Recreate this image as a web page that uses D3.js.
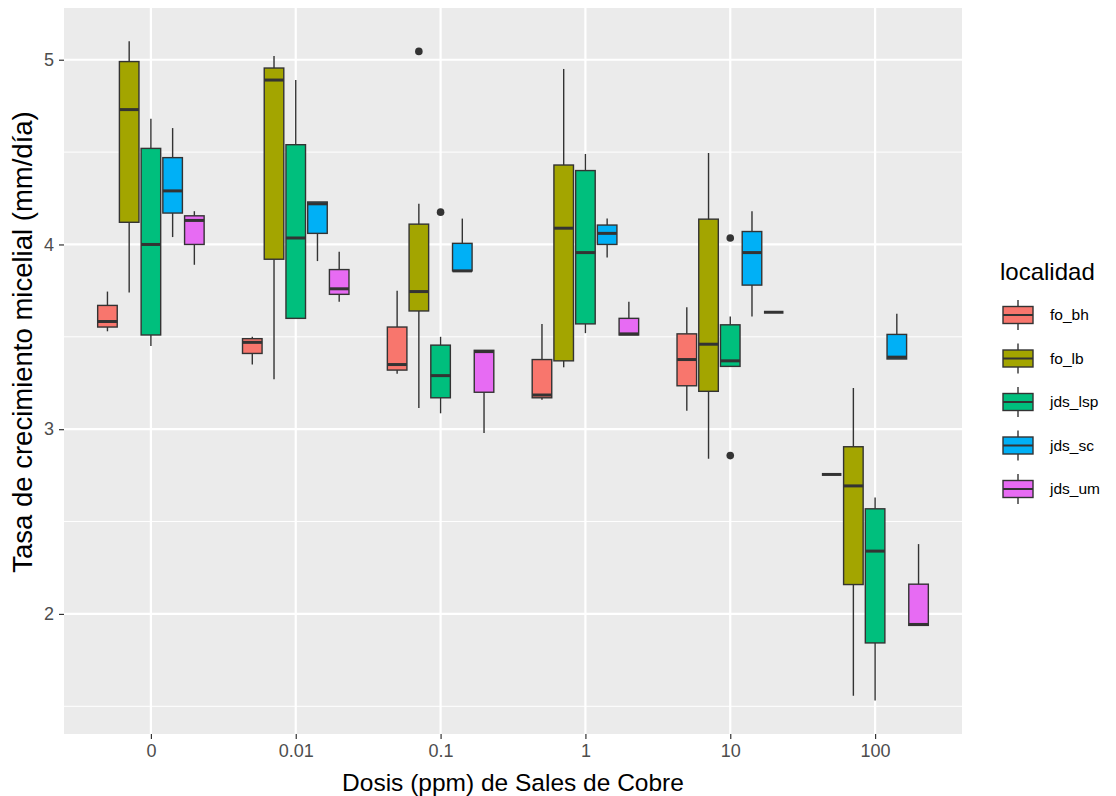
<!DOCTYPE html>
<html>
<head>
<meta charset="utf-8">
<script src="https://cdn.jsdelivr.net/npm/d3@7"></script>
<style>
  body { margin: 0; background: #ffffff; }
  text { font-family: "Liberation Sans", Arial, sans-serif; }
</style>
</head>
<body>
<svg id="chart" width="1116" height="796"></svg>
<script>
// Copper-salt doses (x categories) and sampling localities (fill groups)
const doses = ["0", "0.01", "0.1", "1", "10", "100"];
const localidades = ["fo_bh", "fo_lb", "jds_lsp", "jds_sc", "jds_um"];
const colores = ["#F8766D", "#A3A500", "#00BF7D", "#00B0F6", "#E76BF3"];
const yTicks = [2, 3, 4, 5];
const yMinorTicks = [1.5, 2.5, 3.5, 4.5];

// Five-number summaries per dose: [lower whisker, Q1, median, Q3, upper whisker]
const fo_bh = [
  [3.53, 3.553, 3.583, 3.67, 3.745],
  [3.35, 3.41, 3.47, 3.49, 3.50],
  [3.30, 3.32, 3.35, 3.553, 3.75],
  [3.16, 3.17, 3.185, 3.377, 3.57],
  [3.10, 3.235, 3.377, 3.516, 3.66],
  [2.755, 2.755, 2.755, 2.755, 2.755]
];
const fo_lb = [
  [3.74, 4.12, 4.73, 4.99, 5.10],
  [3.27, 3.92, 4.89, 4.955, 5.02],
  [3.115, 3.64, 3.745, 4.11, 4.22],
  [3.335, 3.37, 4.088, 4.43, 4.95],
  [2.84, 3.205, 3.46, 4.137, 4.495],
  [1.557, 2.159, 2.693, 2.905, 3.223]
];
const jds_lsp = [
  [3.45, 3.51, 4.0, 4.52, 4.68],
  [3.60, 3.60, 4.035, 4.54, 4.89],
  [3.086, 3.17, 3.29, 3.455, 3.50],
  [3.52, 3.57, 3.956, 4.40, 4.49],
  [3.34, 3.34, 3.37, 3.565, 3.61],
  [1.532, 1.843, 2.34, 2.569, 2.63]
];
const jds_sc = [
  [4.04, 4.17, 4.29, 4.47, 4.63],
  [3.91, 4.06, 4.22, 4.23, 4.23],
  [3.857, 3.857, 3.857, 4.006, 4.14],
  [3.93, 4.0, 4.06, 4.105, 4.14],
  [3.61, 3.78, 3.956, 4.07, 4.18],
  [3.38, 3.38, 3.39, 3.513, 3.625]
];
const jds_um = [
  [3.89, 4.0, 4.13, 4.155, 4.18],
  [3.69, 3.73, 3.76, 3.864, 3.96],
  [2.98, 3.20, 3.42, 3.427, 3.427],
  [3.51, 3.51, 3.516, 3.60, 3.69],
  [3.633, 3.633, 3.633, 3.633, 3.633],
  [1.938, 1.938, 1.943, 2.161, 2.378]
];

// Points beyond the whiskers
const outlierLoc = ["fo_lb", "jds_lsp", "jds_lsp", "jds_lsp"];
const outlierDose = ["0.1", "0.1", "10", "10"];
const outlierValue = [5.045, 4.175, 4.035, 2.857];

const summaries = { fo_bh, fo_lb, jds_lsp, jds_sc, jds_um };
const boxes = [];
localidades.forEach((loc, li) => {
  doses.forEach((d, di) => {
    const s = summaries[loc][di];
    boxes.push({ loc, dose: d, color: colores[li], lo: s[0], q1: s[1], med: s[2], q3: s[3], hi: s[4] });
  });
});
const outliers = outlierValue.map((v, i) => ({ loc: outlierLoc[i], dose: outlierDose[i], value: v }));

// Layout
const panel = { left: 64, right: 962, top: 8, bottom: 734 };
const svg = d3.select("#chart");

const x = d3.scalePoint().domain(doses).range([panel.left, panel.right]).padding(0.6);
const groupWidth = x.step() * 0.75;
const xInner = d3.scaleBand().domain(localidades)
  .range([-groupWidth / 2, groupWidth / 2])
  .paddingInner(0.1).paddingOuter(0.05);
const y = d3.scaleLinear().domain([1.35, 5.28]).range([panel.bottom, panel.top]);
const color = d3.scaleOrdinal().domain(localidades).range(colores);

// Panel background and grid
svg.append("rect")
  .attr("x", panel.left).attr("y", panel.top)
  .attr("width", panel.right - panel.left).attr("height", panel.bottom - panel.top)
  .attr("fill", "#EBEBEB");

svg.append("g").selectAll("line").data(yMinorTicks).join("line")
  .attr("x1", panel.left).attr("x2", panel.right)
  .attr("y1", d => y(d)).attr("y2", d => y(d))
  .attr("stroke", "#ffffff").attr("stroke-width", 1);

svg.append("g").selectAll("line").data(yTicks).join("line")
  .attr("x1", panel.left).attr("x2", panel.right)
  .attr("y1", d => y(d)).attr("y2", d => y(d))
  .attr("stroke", "#ffffff").attr("stroke-width", 2.2);

svg.append("g").selectAll("line").data(doses).join("line")
  .attr("x1", d => x(d)).attr("x2", d => x(d))
  .attr("y1", panel.top).attr("y2", panel.bottom)
  .attr("stroke", "#ffffff").attr("stroke-width", 2.2);

// Boxplots
const bw = xInner.bandwidth();
const gBoxes = svg.append("g");
const cx = d => x(d.dose) + xInner(d.loc) + bw / 2;

gBoxes.selectAll("line.whisker-hi").data(boxes).join("line")
  .attr("class", "whisker-hi")
  .attr("x1", cx).attr("x2", cx)
  .attr("y1", d => y(d.q3)).attr("y2", d => y(d.hi))
  .attr("stroke", "#333333").attr("stroke-width", 1.4);

gBoxes.selectAll("line.whisker-lo").data(boxes).join("line")
  .attr("class", "whisker-lo")
  .attr("x1", cx).attr("x2", cx)
  .attr("y1", d => y(d.q1)).attr("y2", d => y(d.lo))
  .attr("stroke", "#333333").attr("stroke-width", 1.4);

gBoxes.selectAll("rect").data(boxes).join("rect")
  .attr("x", d => cx(d) - bw / 2).attr("width", bw)
  .attr("y", d => y(d.q3)).attr("height", d => y(d.q1) - y(d.q3))
  .attr("fill", d => d.color)
  .attr("stroke", "#333333").attr("stroke-width", 1.4);

gBoxes.selectAll("line.median").data(boxes).join("line")
  .attr("class", "median")
  .attr("x1", d => cx(d) - bw / 2).attr("x2", d => cx(d) + bw / 2)
  .attr("y1", d => y(d.med)).attr("y2", d => y(d.med))
  .attr("stroke", "#333333").attr("stroke-width", 3);

svg.append("g").selectAll("circle").data(outliers).join("circle")
  .attr("cx", d => x(d.dose) + xInner(d.loc) + bw / 2)
  .attr("cy", d => y(d.value))
  .attr("r", 3.8)
  .attr("fill", "#333333");

// Axes
const yAxis = d3.axisLeft(y).tickValues(yTicks).tickFormat(d3.format("d")).tickSize(5).tickPadding(5);
const gy = svg.append("g").attr("transform", `translate(${panel.left},0)`).call(yAxis);
gy.select(".domain").remove();
gy.selectAll(".tick line").attr("stroke", "#333333").attr("stroke-width", 1.2);
gy.selectAll(".tick text").attr("fill", "#4D4D4D").attr("font-size", 18).attr("font-family", "Liberation Sans, Arial, sans-serif");

const xAxis = d3.axisBottom(x).tickSize(5).tickPadding(5);
const gx = svg.append("g").attr("transform", `translate(0,${panel.bottom})`).call(xAxis);
gx.select(".domain").remove();
gx.selectAll(".tick line").attr("stroke", "#333333").attr("stroke-width", 1.2);
gx.selectAll(".tick text").attr("fill", "#4D4D4D").attr("font-size", 18).attr("font-family", "Liberation Sans, Arial, sans-serif");

// Axis titles
svg.append("text")
  .attr("x", (panel.left + panel.right) / 2).attr("y", 791)
  .attr("text-anchor", "middle").attr("font-size", 24.5).attr("fill", "#000")
  .text("Dosis (ppm) de Sales de Cobre");

svg.append("text")
  .attr("transform", "translate(32,342) rotate(-90)")
  .attr("text-anchor", "middle").attr("font-size", 27.5).attr("fill", "#000")
  .text("Tasa de crecimiento micelial (mm/día)");

// Legend
const legend = svg.append("g").attr("transform", "translate(1000,0)");
legend.append("text")
  .attr("x", 0).attr("y", 280)
  .attr("font-size", 24).attr("fill", "#000")
  .text("localidad");

const keyY = d3.scalePoint().domain(localidades).range([315, 489]);
const keys = legend.selectAll("g.key").data(localidades).join("g")
  .attr("class", "key")
  .attr("transform", d => `translate(3,${keyY(d)})`);
keys.append("line")
  .attr("x1", 15).attr("x2", 15).attr("y1", -15).attr("y2", 15)
  .attr("stroke", "#333333").attr("stroke-width", 1.4);
keys.append("rect")
  .attr("x", 0).attr("y", -8.5).attr("width", 30).attr("height", 17)
  .attr("fill", d => color(d))
  .attr("stroke", "#333333").attr("stroke-width", 1.4);
keys.append("line")
  .attr("x1", 0).attr("x2", 30).attr("y1", 0).attr("y2", 0)
  .attr("stroke", "#333333").attr("stroke-width", 2);
keys.append("text")
  .attr("x", 47).attr("y", 0).attr("dy", "0.35em")
  .attr("font-size", 15.5).attr("fill", "#000")
  .text(d => d);
</script>
</body>
</html>
